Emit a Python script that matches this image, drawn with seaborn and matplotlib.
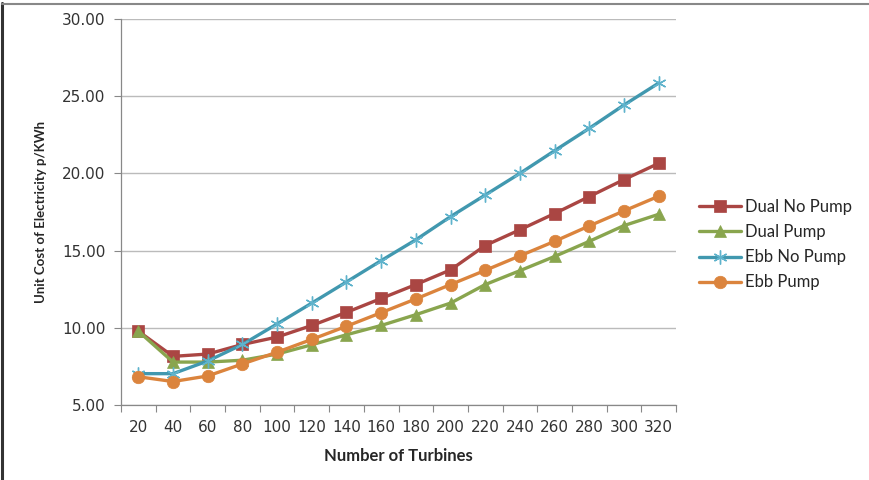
import matplotlib
matplotlib.use("Agg")
import matplotlib.pyplot as plt
import seaborn as sns
import pandas as pd
from matplotlib.lines import Line2D

turbines = [20, 40, 60, 80, 100, 120, 140, 160, 180, 200, 220, 240, 260, 280, 300, 320]
dual_no_pump = [9.78, 8.15, 8.30, 8.92, 9.40, 10.15, 11.00, 11.90, 12.80, 13.75, 15.33, 16.35, 17.40, 18.50, 19.60, 20.65]
dual_pump = [9.78, 7.78, 7.78, 7.90, 8.30, 8.90, 9.55, 10.15, 10.85, 11.60, 12.80, 13.70, 14.62, 15.60, 16.62, 17.35]
ebb_no_pump = [7.03, 7.03, 7.85, 8.92, 10.25, 11.60, 12.97, 14.35, 15.70, 17.20, 18.60, 20.00, 21.47, 22.92, 24.43, 25.85]
ebb_pump = [6.83, 6.52, 6.88, 7.66, 8.42, 9.25, 10.10, 10.98, 11.87, 12.80, 13.72, 14.66, 15.60, 16.60, 17.57, 18.52]
series_names = ["Dual No Pump", "Dual Pump", "Ebb No Pump", "Ebb Pump"]
series_values = [dual_no_pump, dual_pump, ebb_no_pump, ebb_pump]
y_ticks = [5, 10, 15, 20, 25, 30]

sns.set_theme(style="white")
plt.rcParams["font.family"] = ["DejaVu Sans"]

colors = ["#AA4643", "#89A54E", "#4198AF", "#DB843D"]
markers = ["s", "^", (6, 2, 0), "o"]
msizes = [8.5, 9, 10, 9]

fig = plt.figure(figsize=(8.69, 4.8), dpi=100)
ax = fig.add_axes([121 / 869, 1 - 405 / 480, (676 - 121) / 869, (405 - 19) / 480])

for name, vals, c, m, ms in zip(series_names, series_values, colors, markers, msizes):
    df = pd.DataFrame({"x": turbines, "y": vals})
    kw = dict(marker=m, markersize=ms, markeredgecolor=c, markerfacecolor=c)
    if m == (6, 2, 0):
        kw["markeredgewidth"] = 1.0
        kw["markeredgecolor"] = "#5FB3CC"
    else:
        kw["markeredgewidth"] = 0.5
    sns.lineplot(data=df, x="x", y="y", ax=ax, color=c, linewidth=2.4, label=name, **kw)

ax.set_xlim(10, 330)
ax.set_ylim(5, 30)
ax.set_xticks(turbines)
ax.set_xticks([t - 10 for t in turbines] + [330], minor=True)
ax.set_yticks(y_ticks)
ax.set_yticklabels([f"{v:.2f}" for v in y_ticks], fontsize=11, color="#333333")
ax.set_xticklabels([str(t) for t in turbines], fontsize=11, color="#333333")
ax.tick_params(axis="x", which="major", length=0, pad=11)
ax.tick_params(axis="x", which="minor", length=5, width=0.8, color="#888888", direction="out", bottom=True)
ax.tick_params(axis="y", length=5, width=0.8, color="#888888", direction="out", left=True, pad=6)
ax.yaxis.grid(True, color="#BBBBBB", linewidth=1)
ax.xaxis.grid(False)
for s in ["top", "right"]:
    ax.spines[s].set_visible(False)
for s in ["left", "bottom"]:
    ax.spines[s].set_color("#888888")
    ax.spines[s].set_linewidth(0.9)

ax.set_xlabel("Number of Turbines", fontsize=12, fontweight="bold", family=["Lato", "DejaVu Sans"], labelpad=9)
ax.set_ylabel("Unit Cost of Electricity p/KWh", fontsize=9.5, fontweight="bold", family=["Lato", "DejaVu Sans"], labelpad=11)

leg = ax.legend(loc="upper left", bbox_to_anchor=(684 / 869, 1 - 184 / 480), bbox_transform=fig.transFigure,
                frameon=False, prop={"family": ["Lato", "DejaVu Sans"], "size": 12},
                handlelength=2.5, labelspacing=0.55, handletextpad=0.25)

fig.add_artist(Line2D([2 / 869, 2 / 869], [0, 1 - 3 / 480], transform=fig.transFigure, color="#333333", linewidth=2.2))
fig.add_artist(Line2D([2 / 869, 1], [1 - 4 / 480, 1 - 4 / 480], transform=fig.transFigure, color="#888888", linewidth=1.5))

fig.savefig("out.png", dpi=100)
